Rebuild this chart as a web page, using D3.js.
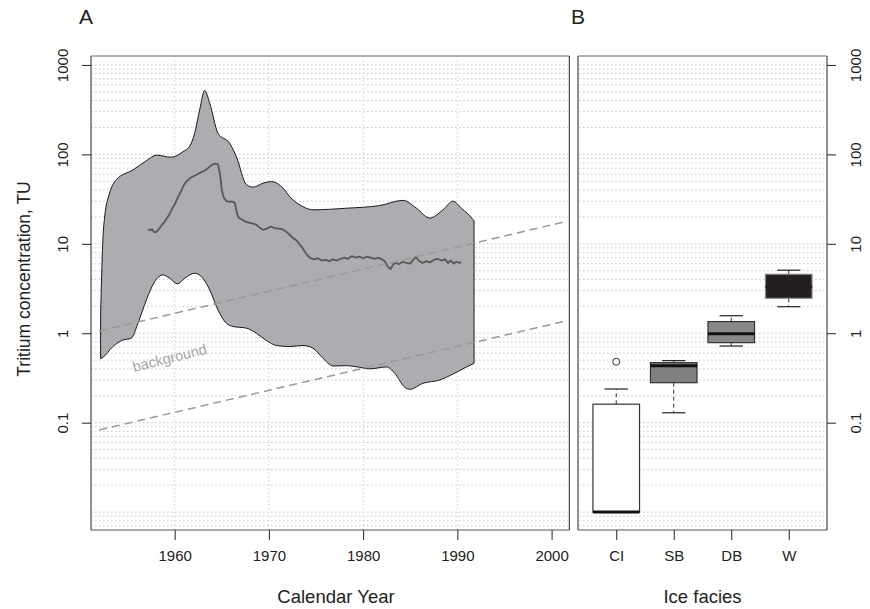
<!DOCTYPE html>
<html>
<head>
<meta charset="utf-8">
<script src="https://cdn.jsdelivr.net/npm/d3@7"></script>
<style>
  body { margin: 0; background: #fff; }
  svg text { font-family: "Liberation Sans", Arial, Helvetica, sans-serif; fill: #222; }
</style>
</head>
<body>
<div id="chart"></div>
<script>
// ── Data: panel A (calendar year, TU) ──
const bandUpper = [
  [1952.14, 1.6], [1952.36, 10], [1952.57, 20], [1953.1, 37], [1953.81, 52], [1955.57, 67],
  [1957.0, 85], [1958.06, 98], [1959.65, 93], [1960.88, 107], [1961.59, 123], [1962.12, 172],
  [1962.65, 314], [1963.18, 518], [1963.72, 373], [1964.6, 172], [1965.84, 133], [1966.55, 94],
  [1967.61, 46], [1968.31, 43], [1969.37, 47.6], [1970.27, 49.6], [1971.5, 42], [1972.21, 33.7],
  [1973.62, 26], [1974.68, 24], [1978.23, 25], [1981.76, 26.8], [1984.24, 30.6], [1985.66, 25],
  [1987.07, 19.4], [1988.48, 24], [1989.54, 30], [1990.43, 25], [1991.67, 18.6], [1991.77, 18]
];
const bandLower = [
  [1952.14, 0.52], [1952.3, 0.53], [1953.45, 0.71], [1954.51, 0.84], [1955.4, 0.88], [1956.1, 1.29],
  [1957.0, 2.36], [1957.88, 3.78], [1958.76, 4.49], [1959.47, 4.12], [1960.29, 3.56], [1961.06, 4.12],
  [1962.12, 4.69], [1962.83, 4.3], [1963.72, 3.05], [1964.6, 1.82], [1965.49, 1.29], [1966.19, 1.19],
  [1967.61, 1.14], [1968.67, 1.0], [1969.73, 0.83], [1970.8, 0.73], [1972.21, 0.71], [1973.62, 0.73],
  [1974.68, 0.68], [1975.74, 0.525], [1976.8, 0.43], [1978.23, 0.434], [1979.64, 0.416], [1980.7, 0.40],
  [1982.47, 0.42], [1983.35, 0.357], [1984.42, 0.249], [1984.95, 0.236], [1986.36, 0.276],
  [1988.13, 0.30], [1989.54, 0.35], [1990.97, 0.42], [1991.77, 0.46]
];
const meanRecord = [
  [1957.2, 14.5], [1957.4, 14.2], [1957.6, 14.6], [1957.8, 13.6], [1958.0, 13.4], [1958.3, 14.5],
  [1958.6, 16.0], [1958.9, 17.5], [1959.2, 19.5], [1959.5, 22], [1959.8, 25.5], [1960.1, 29],
  [1960.4, 34], [1960.7, 39], [1960.9, 44], [1961.2, 49], [1961.6, 54], [1962.0, 57], [1962.4, 60],
  [1962.8, 63], [1963.2, 66], [1963.6, 71], [1964.0, 77], [1964.3, 79], [1964.6, 77], [1964.8, 62],
  [1965.0, 40], [1965.2, 33], [1965.5, 30], [1965.8, 29.5], [1966.1, 29.8], [1966.4, 28.5],
  [1966.6, 22], [1966.8, 19.5], [1967.1, 18.8], [1967.5, 17.7], [1967.9, 17.3], [1968.3, 16.8],
  [1968.7, 16.3], [1969.0, 15.2], [1969.4, 14.3], [1969.8, 14.8], [1970.2, 15.6], [1970.6, 15.0],
  [1971.0, 14.8], [1971.5, 14.5], [1971.9, 13.5], [1972.3, 12.3], [1972.6, 11.5], [1972.9, 11.0],
  [1973.2, 10.0], [1973.5, 9.2], [1973.8, 8.2], [1974.1, 7.4], [1974.4, 6.9], [1974.8, 6.7],
  [1975.2, 6.9], [1975.6, 6.5], [1976.0, 6.6], [1976.4, 6.4], [1976.8, 6.7], [1977.2, 6.5],
  [1977.6, 6.8], [1978.0, 7.0], [1978.4, 6.8], [1978.8, 7.3], [1979.2, 7.0], [1979.6, 7.2],
  [1980.0, 6.9], [1980.4, 7.2], [1980.8, 7.0], [1981.2, 6.8], [1981.6, 7.0], [1982.0, 6.7],
  [1982.3, 6.4], [1982.6, 5.6], [1982.9, 5.2], [1983.2, 5.9], [1983.5, 6.1], [1983.8, 5.9],
  [1984.2, 6.3], [1984.6, 6.1], [1985.0, 6.0], [1985.3, 6.6], [1985.6, 7.1], [1985.9, 6.5],
  [1986.3, 6.1], [1986.7, 6.4], [1987.1, 6.2], [1987.5, 6.6], [1987.9, 6.8], [1988.3, 6.5],
  [1988.7, 6.7], [1989.0, 6.1], [1989.3, 6.5], [1989.6, 6.0], [1989.9, 6.3], [1990.2, 6.1], [1990.4, 6.3]
];
const backgroundHigh = [[1952, 1.06], [2001.5, 17.7]];
const backgroundLow  = [[1952, 0.083], [2001.5, 1.37]];
const xTicks = [1960, 1970, 1980, 1990, 2000];
const xGrid  = [1960, 1970, 1980, 1990];
const yTicks = [1000, 100, 10, 1, 0.1];
const yTickLabels = ['1000', '100', '10', '1', '0.1'];

// ── Data: panel B (box statistics per ice facies) ──
const facies    = ['CI', 'SB', 'DB', 'W'];
const whiskerLo = [0.01, 0.129, 0.72, 1.98];
const quart1    = [0.01, 0.28, 0.785, 2.46];
const medians   = [0.01, 0.434, 0.99, 3.3];
const quart3    = [0.161, 0.469, 1.35, 4.57];
const whiskerHi = [0.238, 0.494, 1.57, 5.07];
const outliers  = [['CI', 0.48]];
const boxFills  = ['#ffffff', '#7f7f7f', '#888888', '#231f20'];

const svg = d3.select('#chart').append('svg').attr('width', 870).attr('height', 609);

// ── Scales ──
const TOP = 56, BOTTOM = 530;
const x = d3.scaleLinear().domain([1951.12, 2001.88]).range([91, 569.3]);
const y = d3.scaleLog().domain([Math.pow(10, -2.2), Math.pow(10, 3.1)]).range([BOTTOM, TOP]);
const xb = d3.scalePoint().domain(facies).range([578, 827]).padding(0.665);
const boxW = xb.step() * 0.81;

function hGrid(x0, x1) {
  svg.append('g').selectAll('line').data(y.ticks()).join('line')
    .attr('x1', x0).attr('x2', x1)
    .attr('y1', d => y(d)).attr('y2', d => y(d))
    .attr('stroke', '#c8c8c8').attr('stroke-width', 1).attr('stroke-dasharray', '1.5,2.5');
}

function frame(x0, x1) {
  svg.append('line').attr('x1', x0).attr('x2', x1).attr('y1', TOP).attr('y2', TOP).attr('stroke', '#6a6a6a');
  svg.append('line').attr('x1', x0).attr('x2', x1).attr('y1', BOTTOM).attr('y2', BOTTOM).attr('stroke', '#555');
  svg.append('line').attr('x1', x0).attr('x2', x0).attr('y1', TOP).attr('y2', BOTTOM).attr('stroke', '#222');
  svg.append('line').attr('x1', x1).attr('x2', x1).attr('y1', TOP).attr('y2', BOTTOM).attr('stroke', '#222');
}

function yAxis(axisGen, xPos, labelOffset) {
  const g = svg.append('g').attr('transform', `translate(${xPos},0)`)
    .call(axisGen.tickValues(yTicks).tickSize(9).tickFormat((d, i) => yTickLabels[i]));
  g.select('.domain').remove();
  g.selectAll('line').attr('stroke', '#222');
  g.selectAll('text')
    .attr('x', null).attr('dy', null).attr('text-anchor', 'middle')
    .attr('transform', `translate(${labelOffset},0) rotate(-90)`)
    .style('font-size', '15px').attr('fill', '#222');
}

// ══ Panel A ══
hGrid(91, 568);
svg.append('g').selectAll('line').data(xGrid).join('line')
  .attr('x1', d => x(d)).attr('x2', d => x(d)).attr('y1', TOP).attr('y2', BOTTOM)
  .attr('stroke', '#d0d0d0').attr('stroke-dasharray', '1.5,2.5');

// ── Uncertainty band ──
const smooth = d3.line().x(d => x(d[0])).y(d => y(d[1])).curve(d3.curveMonotoneX);
const upperD = smooth(bandUpper);
// lower edge traced right-to-left
const lowerRev = smooth(bandLower.slice().reverse());
svg.append('path')
  .attr('d', upperD + 'L' + lowerRev.slice(1) + 'Z')
  .attr('fill', '#adadb1').attr('stroke', '#1a1a1a').attr('stroke-width', 1);

// ── Mean record ──
svg.append('path')
  .attr('d', d3.line().x(d => x(d[0])).y(d => y(d[1]))(meanRecord))
  .attr('fill', 'none').attr('stroke', '#585858').attr('stroke-width', 1.8).attr('stroke-linejoin', 'round');

// ── Background decay lines ──
[backgroundHigh, backgroundLow].forEach(ln => {
  svg.append('path')
    .attr('d', d3.line().x(d => x(d[0])).y(d => y(d[1]))(ln))
    .attr('fill', 'none').attr('stroke', '#999').attr('stroke-width', 1.5).attr('stroke-dasharray', '8,5');
});
svg.append('text').attr('transform', 'translate(134,372) rotate(-14)')
  .style('font-size', '14.5px').style('fill', '#a6a6a6').text('background');

frame(91, 569.3);

const xAx = svg.append('g').attr('transform', `translate(0,${BOTTOM})`)
  .call(d3.axisBottom(x).tickValues(xTicks).tickSize(10).tickPadding(10).tickFormat(d3.format('d')));
xAx.select('.domain').remove();
xAx.selectAll('line').attr('stroke', '#222');
xAx.selectAll('text').style('font-size', '15px').attr('fill', '#222');

yAxis(d3.axisLeft(y), 91, -23.5);

svg.append('text').attr('x', 336).attr('y', 603).attr('text-anchor', 'middle')
  .style('font-size', '18.5px').text('Calendar Year');
svg.append('text').attr('transform', 'translate(30,279) rotate(-90)').attr('text-anchor', 'middle')
  .style('font-size', '17.5px').text('Tritium concentration, TU');
svg.append('text').attr('x', 79).attr('y', 24).style('font-size', '21px').text('A');

// ══ Panel B ══
hGrid(579, 826);

facies.forEach((f, i) => {
  const cx = xb(f);
  const g = svg.append('g');
  // whiskers
  g.append('line').attr('x1', cx).attr('x2', cx).attr('y1', y(quart3[i])).attr('y2', y(whiskerHi[i]))
    .attr('stroke', '#333').attr('stroke-dasharray', '4,3');
  g.append('line').attr('x1', cx).attr('x2', cx).attr('y1', y(quart1[i])).attr('y2', y(whiskerLo[i]))
    .attr('stroke', '#333').attr('stroke-dasharray', '4,3');
  [whiskerHi[i], whiskerLo[i]].forEach(v => {
    g.append('line').attr('x1', cx - boxW / 4).attr('x2', cx + boxW / 4)
      .attr('y1', y(v)).attr('y2', y(v)).attr('stroke', '#222').attr('stroke-width', 1.2);
  });
  // box
  g.append('rect')
    .attr('x', cx - boxW / 2).attr('width', boxW)
    .attr('y', y(quart3[i])).attr('height', y(quart1[i]) - y(quart3[i]))
    .attr('fill', boxFills[i]).attr('stroke', i === 3 ? '#8a8a8a' : '#333').attr('stroke-width', 1.2);
  g.append('line').attr('x1', cx - boxW / 2).attr('x2', cx + boxW / 2)
    .attr('y1', y(medians[i])).attr('y2', y(medians[i]))
    .attr('stroke', i === 3 ? '#231f20' : '#111').attr('stroke-width', 3);
});

svg.append('g').selectAll('circle').data(outliers).join('circle')
  .attr('cx', d => xb(d[0])).attr('cy', d => y(d[1])).attr('r', 3.5)
  .attr('fill', 'none').attr('stroke', '#333').attr('stroke-width', 1);

frame(578, 827);

const xbAx = svg.append('g').attr('transform', `translate(0,${BOTTOM})`)
  .call(d3.axisBottom(xb).tickSize(10).tickPadding(10));
xbAx.select('.domain').remove();
xbAx.selectAll('line').attr('stroke', '#222');
xbAx.selectAll('text').style('font-size', '15px').attr('fill', '#222');

yAxis(d3.axisRight(y), 827, 33.5);

svg.append('text').attr('x', 702.5).attr('y', 603).attr('text-anchor', 'middle')
  .style('font-size', '18.5px').text('Ice facies');
svg.append('text').attr('x', 571).attr('y', 24).style('font-size', '21px').text('B');
</script>
</body>
</html>
